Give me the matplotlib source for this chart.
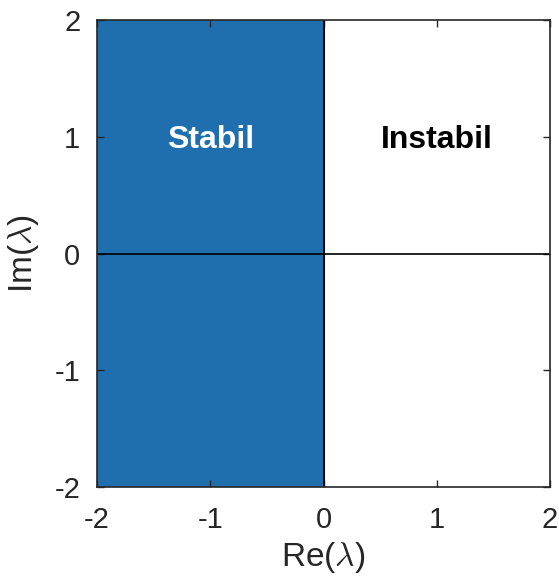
import numpy as np
import matplotlib.pyplot as plt

plt.rcParams['font.family'] = ['Liberation Sans', 'DejaVu Sans']
plt.rcParams['mathtext.fontset'] = 'cm'

# Bereich und Beschriftungen
re_limits = [-2, 2]
im_limits = [-2, 2]
stable_re = [-2, 0]
ticks = [-2, -1, 0, 1, 2]
tick_labels = ['-2', '-1', '0', '1', '2']
region_labels = ['Stabil', 'Instabil']
label_re = [-1, 1]
label_im = [1, 1]

fig = plt.figure(figsize=(5.59, 5.77), dpi=100)
ax = fig.add_axes([0.1735, 0.156, 0.8105, 0.8093])

# stabile Halbebene
ax.fill_between(stable_re, im_limits[0], im_limits[1], color='#1f6faf', linewidth=0)

ax.axhline(0, color='black', linewidth=1.2)
ax.axvline(0, color='black', linewidth=1.5)

ax.text(label_re[0], label_im[0], region_labels[0], color='white', fontsize=23,
        fontweight='bold', ha='center', va='center_baseline')
ax.text(label_re[1], label_im[1], region_labels[1], color='black', fontsize=23,
        fontweight='bold', ha='center', va='center_baseline')

ax.set_xlim(re_limits)
ax.set_ylim(im_limits)
ax.set_xticks(ticks)
ax.set_xticklabels(tick_labels)
ax.set_yticks(ticks)
ax.set_yticklabels(tick_labels)
ax.tick_params(direction='in', top=True, right=True, labelsize=21, colors='#262626',
               length=5, width=1)
ax.tick_params(axis='x', pad=14)
ax.tick_params(axis='y', pad=12)
for s in ax.spines.values():
    s.set_color('#262626')
    s.set_linewidth(1.2)

ax.set_xlabel(r'Re($\lambda$)', fontsize=24, color='#262626', labelpad=4)
ax.set_ylabel(r'Im($\lambda$)', fontsize=24, color='#262626', labelpad=10)

fig.savefig('out.png', dpi=100)
